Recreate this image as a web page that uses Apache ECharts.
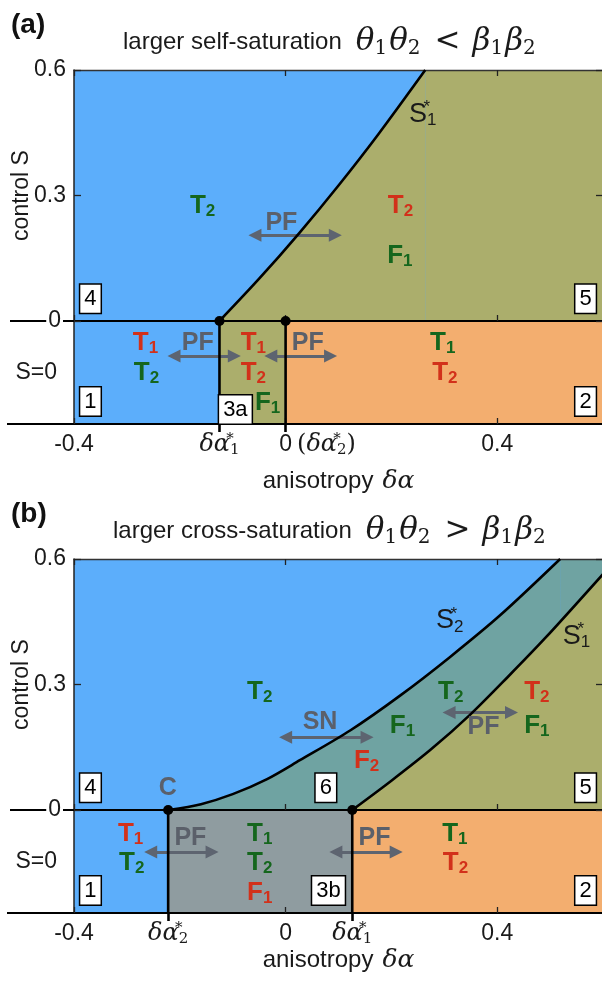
<!DOCTYPE html>
<html>
<head>
<meta charset="utf-8">
<script src="https://cdn.jsdelivr.net/npm/echarts@6/dist/echarts.min.js"></script>
<style>
html,body{margin:0;padding:0;background:#fff}
#chart{width:602px;height:988px}
</style>
</head>
<body>
<div id="chart"></div>
<script>
// ---------- axes ----------
const X_MIN = -0.4, X_MAX = 0.6, X_STEP = 0.4;
const S_MIN = 0, S_MAX = 0.6, S_STEP = 0.3;
const xTickValues = [-0.4, 0, 0.4];
const sLabelValues = [0.3, 0.6];

// ---------- panel (a): larger self-saturation ----------
const aAlpha1 = -0.125;           // δα1*
const aAlpha2 = 0;                // δα2*
const aCurveS1 = [[-0.125, 0], [-0.05, 0.101], [0.025, 0.209], [0.1, 0.324], [0.175, 0.446], [0.264, 0.6]];
const aStripBands = [[aAlpha1, aAlpha2, 'olive'], [aAlpha2, X_MAX, 'orange']];
const aStripWalls = [aAlpha1, aAlpha2];
const aNodes = [[aAlpha1, 0], [aAlpha2, 0]];
const aTickLabels = [[-0.4, '{n|-0.4}'], [aAlpha1, '{m|δα}{mt|*}{mb|1}'], [0, '{pad|}{n|0}{gap|}{ms|(}{m|δα}{mt|*}{mb|2}{ms|)}'], [0.4, '{n|0.4}']];
// stable states: [symbol, index, colour, δα, y]
const aUpperStates = [['T', '2', 'g', -0.156, 0.274], ['T', '2', 'r', 0.218, 0.274], ['F', '1', 'g', 0.217, 0.155]];
const aStripStates = [['T', '1', 'r', -0.264, 0.786], ['T', '2', 'g', -0.262, 0.495],
                      ['T', '1', 'r', -0.06, 0.786], ['T', '2', 'r', -0.06, 0.495], ['F', '1', 'g', -0.033, 0.204],
                      ['T', '1', 'g', 0.298, 0.786], ['T', '2', 'r', 0.302, 0.495]];
// bifurcation names: [name, δα, y]; arrows: [from δα, to δα, y]
const aUpperBif = [['PF', -0.007, 0.233]];
const aUpperArrows = [[-0.058, 0.094, 0.205]];
const aStripBif = [['PF', -0.165, 0.777], ['PF', 0.043, 0.777]];
const aStripArrows = [[-0.211, -0.097, 0.66], [-0.028, 0.085, 0.66]];
const aUpperBoxes = [['4', -0.368, 0.052], ['5', 0.568, 0.052]];
const aStripBoxes = [['1', -0.368, 0.214], ['2', 0.568, 0.214], ['3a', -0.094, 0.136]];
const aCurveNames = [['1', 0.26, 0.493]];

// ---------- panel (b): larger cross-saturation ----------
const bAlpha1 = 0.126;            // δα1*
const bAlpha2 = -0.222;           // δα2*
const bCurveS2 = [[-0.222, 0], [-0.16, 0.014], [-0.1, 0.038], [-0.035, 0.074], [0.027, 0.119], [0.122, 0.19],
                  [0.217, 0.274], [0.311, 0.366], [0.406, 0.466], [0.519, 0.6]];
const bCurveS1 = [[0.126, 0], [0.2, 0.07], [0.275, 0.145], [0.349, 0.228], [0.42, 0.318], [0.49, 0.41], [0.6, 0.564]];
const bStripBands = [[bAlpha2, bAlpha1, 'grey'], [bAlpha1, X_MAX, 'orange']];
const bStripWalls = [bAlpha2, bAlpha1];
const bNodes = [[bAlpha2, 0], [bAlpha1, 0]];
const bTickLabels = [[-0.4, '{n|-0.4}'], [bAlpha2, '{m|δα}{mt|*}{mb|2}'], [0, '{n|0}'], [bAlpha1, '{m|δα}{mt|*}{mb|1}'], [0.4, '{n|0.4}']];
const bUpperStates = [['T', '2', 'g', -0.048, 0.281], ['F', '1', 'g', 0.222, 0.2], ['F', '2', 'r', 0.154, 0.117],
                      ['T', '2', 'g', 0.313, 0.281], ['T', '2', 'r', 0.476, 0.281], ['F', '1', 'g', 0.476, 0.2]];
const bStripStates = [['T', '1', 'r', -0.292, 0.767], ['T', '2', 'g', -0.29, 0.485],
                      ['T', '1', 'g', -0.048, 0.767], ['T', '2', 'g', -0.048, 0.485], ['F', '1', 'r', -0.048, 0.194],
                      ['T', '1', 'g', 0.321, 0.767], ['T', '2', 'r', 0.322, 0.485]];
const bUpperBif = [['SN', 0.066, 0.21], ['PF', 0.375, 0.198], ['C', -0.222, 0.05]];
const bUpperArrows = [[0.0, 0.154, 0.174], [0.309, 0.427, 0.233]];
const bStripBif = [['PF', -0.179, 0.718], ['PF', 0.169, 0.718]];
const bStripArrows = [[-0.255, -0.139, 0.592], [0.095, 0.209, 0.592]];
const bUpperBoxes = [['4', -0.368, 0.052], ['6', 0.077, 0.052], ['5', 0.568, 0.052]];
const bStripBoxes = [['1', -0.368, 0.214], ['3b', 0.082, 0.214], ['2', 0.568, 0.214]];
const bCurveNames = [['2', 0.311, 0.452], ['1', 0.551, 0.414]];

// ---------- styling ----------
const SANS = '"Liberation Sans", Arial, sans-serif';
const MATH = '"DejaVu Serif", serif';
const FILL = { blue: '#5caefb', olive: '#abae6c', orange: '#f3ae6f', grey: '#8f9ca0', teal: '#6fa3a2' };
const GREEN = '#15661d', RED = '#d2311a', BIFGREY = '#5b606a', ARROW = '#5d6470', INK = '#1a1a1a';
const CURVE_SMOOTH = 0.3;

const RICH = {
  g:  { fontFamily: SANS, fontWeight: 'bold', fontSize: 26, lineHeight: 28, color: GREEN },
  gs: { fontFamily: SANS, fontWeight: 'bold', fontSize: 17, lineHeight: 14, color: GREEN, verticalAlign: 'bottom' },
  r:  { fontFamily: SANS, fontWeight: 'bold', fontSize: 26, lineHeight: 28, color: RED },
  rs: { fontFamily: SANS, fontWeight: 'bold', fontSize: 17, lineHeight: 14, color: RED, verticalAlign: 'bottom' },
  p:  { fontFamily: SANS, fontWeight: 'bold', fontSize: 25, lineHeight: 28, color: BIFGREY },
  k:  { fontFamily: SANS, fontSize: 27, lineHeight: 30, color: INK },
  kt: { fontFamily: SANS, fontSize: 17, lineHeight: 14, color: INK, verticalAlign: 'top', width: 0 },
  ks: { fontFamily: SANS, fontSize: 17, lineHeight: 14, color: INK, verticalAlign: 'bottom' }
};
const AXIS_RICH = {
  n:   { fontFamily: SANS, fontSize: 23, lineHeight: 26, color: INK },
  m:   { fontFamily: MATH, fontStyle: 'italic', fontSize: 24, lineHeight: 26, color: INK },
  ms:  { fontFamily: MATH, fontSize: 24, lineHeight: 26, color: INK },
  mt:  { fontFamily: MATH, fontSize: 15, lineHeight: 12, color: INK, verticalAlign: 'top', width: 0 },
  mb:  { fontFamily: MATH, fontSize: 15, lineHeight: 12, color: INK, verticalAlign: 'bottom' },
  pad: { width: 64 },
  gap: { width: 5 }
};
const TITLE_RICH = {
  t: { fontFamily: SANS, fontWeight: 'normal', fontSize: 24, lineHeight: 34, color: INK },
  m: { fontFamily: MATH, fontWeight: 'normal', fontStyle: 'italic', fontSize: 31, lineHeight: 34, color: INK },
  s: { fontFamily: MATH, fontWeight: 'normal', fontSize: 20, lineHeight: 16, color: INK, verticalAlign: 'bottom', padding: [0, 2, 0, 0] },
  o: { fontFamily: MATH, fontWeight: 'normal', fontSize: 31, lineHeight: 34, color: INK, padding: [0, 12] },
  sp: { width: 14 }
};

function stateText(s) { return '{' + s[2] + '|' + s[0] + '}{' + s[2] + 's|' + s[1] + '}'; }

const option = {
  animation: false,
  backgroundColor: '#fff',
  title: [],
  grid: [],
  xAxis: [],
  yAxis: [],
  series: []
};

const CLEAR = { color: 'rgba(0,0,0,0)', opacity: 1 };

function textSeries(xi, yi, items) {
  return {
    type: 'scatter', xAxisIndex: xi, yAxisIndex: yi, silent: true, clip: false, z: 8,
    symbol: 'circle', symbolSize: 1, itemStyle: CLEAR,
    label: { show: true, position: [0, 0], align: 'center', verticalAlign: 'middle', rich: RICH, textBorderWidth: 0 },
    data: items.map(it => ({ value: [it[1], it[2]], label: { formatter: it[0] } }))
  };
}

function boxSeries(xi, yi, items) {
  return {
    type: 'scatter', xAxisIndex: xi, yAxisIndex: yi, silent: true, clip: false, z: 8,
    symbol: 'circle', symbolSize: 1, itemStyle: CLEAR,
    label: {
      show: true, position: [0, 0], align: 'center', verticalAlign: 'middle',
      fontFamily: SANS, fontSize: 22, lineHeight: 24, color: '#000',
      backgroundColor: '#fff', borderColor: '#000', borderWidth: 1.5, padding: [3, 4, 1, 4],
      formatter: p => p.data.name
    },
    data: items.map(it => ({ name: it[0], value: [it[1], it[2]] }))
  };
}

function arrowLines(xi, yi, arrows) {
  return {
    type: 'line', xAxisIndex: xi, yAxisIndex: yi, data: [], silent: true, z: 7,
    markLine: {
      silent: true, animation: false, symbol: ['triangle', 'triangle'], symbolSize: [13, 13],
      label: { show: false }, lineStyle: { color: ARROW, width: 3, type: 'solid', opacity: 1 },
      emphasis: { disabled: true },
      data: arrows.map(a => [{ coord: [a[0], a[2]] }, { coord: [a[1], a[2]] }])
    }
  };
}

function areaSeries(xi, yi, pts, colour, z, smooth) {
  return {
    type: 'line', xAxisIndex: xi, yAxisIndex: yi, data: pts, showSymbol: false, symbol: 'none',
    silent: true, z: z, smooth: smooth || false, lineStyle: { width: 0 }, areaStyle: { color: colour, opacity: 1 }
  };
}

function curveSeries(xi, yi, pts) {
  return {
    type: 'line', xAxisIndex: xi, yAxisIndex: yi, data: pts, showSymbol: false, symbol: 'none',
    silent: true, z: 6, smooth: CURVE_SMOOTH, lineStyle: { color: '#000', width: 2.6 }
  };
}

function addPanel(P) {
  const gU = option.grid.length, gL = gU + 1;
  const gridBase = { left: 74, right: -1, show: true, backgroundColor: FILL.blue, borderWidth: 0,
                     containLabel: false, outerBoundsMode: 'none' };
  option.grid.push(
    Object.assign({}, gridBase, { top: P.top, height: 251 }),
    Object.assign({}, gridBase, { top: P.top + 251, height: 103 })
  );

  const baseX = { type: 'value', min: X_MIN, max: X_MAX, interval: X_STEP, splitLine: { show: false }, z: 5 };
  const xU = option.xAxis.length;
  option.xAxis.push(
    Object.assign({}, baseX, { gridIndex: gU, position: 'bottom',
      axisLine: { onZero: false, lineStyle: { color: '#000', width: 2 } },
      axisTick: { inside: true, length: 6, lineStyle: { color: '#222', width: 1.3 } },
      axisLabel: { show: false } }),
    Object.assign({}, baseX, { gridIndex: gU, position: 'top',
      axisLine: { onZero: false, lineStyle: { color: '#333', width: 1.3 } },
      axisTick: { inside: true, length: 6, lineStyle: { color: '#222', width: 1.3 } },
      axisLabel: { show: false } }),
    Object.assign({}, baseX, { gridIndex: gL, position: 'bottom',
      axisLine: { onZero: false, lineStyle: { color: '#000', width: 2 } },
      axisTick: { inside: true, length: 6, customValues: xTickValues, lineStyle: { color: '#222', width: 1.3 } },
      axisLabel: {
        margin: 8, customValues: P.tickLabels.map(t => t[0]), rich: AXIS_RICH,
        formatter: v => { const hit = P.tickLabels.find(t => Math.abs(t[0] - v) < 1e-6); return hit ? hit[1] : ''; }
      },
      name: '{n|anisotropy}{gap|}{m|δα}', nameLocation: 'middle', nameGap: P.nameGap, nameMoveOverlap: false,
      nameTextStyle: { rich: { n: { fontFamily: SANS, fontSize: 24, lineHeight: 28, color: INK },
                               m: { fontFamily: MATH, fontStyle: 'italic', fontSize: 25, lineHeight: 28, color: INK },
                               gap: { width: 9 } } } }),
    Object.assign({}, baseX, { gridIndex: gL, position: 'bottom',
      axisLine: { show: false, onZero: false },
      axisTick: { inside: false, length: 8, customValues: P.walls, lineStyle: { color: '#000', width: 2.6 } },
      axisLabel: { show: false } })
  );

  const yU = option.yAxis.length;
  option.yAxis.push(
    { type: 'value', gridIndex: gU, position: 'left', min: S_MIN, max: S_MAX, interval: S_STEP, z: 5,
      splitLine: { show: false },
      axisLine: { onZero: false, lineStyle: { color: '#222', width: 1.5 } },
      axisTick: { inside: true, length: 7, lineStyle: { color: '#222', width: 1.3 } },
      axisLabel: { customValues: sLabelValues, margin: 8, fontFamily: SANS, fontSize: 23, color: INK },
      name: 'control S', nameLocation: 'middle', nameGap: 41, nameMoveOverlap: false,
      nameTextStyle: { fontFamily: SANS, fontSize: 23, color: INK } },
    { type: 'value', gridIndex: gU, position: 'left', min: S_MIN, max: S_MAX, interval: S_STEP, z: 5,
      splitLine: { show: false }, axisLine: { show: false, onZero: false },
      axisTick: { inside: false, length: 64, customValues: [0], lineStyle: { color: '#000', width: 2 } },
      axisLabel: { customValues: [0], margin: 11, fontFamily: SANS, fontSize: 23, color: INK,
                   backgroundColor: '#fff', padding: [0, 2, 0, 2], formatter: () => '0' } },
    { type: 'value', gridIndex: gU, position: 'right', min: S_MIN, max: S_MAX, interval: S_STEP, z: 5,
      splitLine: { show: false }, axisLine: { show: false, onZero: false },
      axisTick: { inside: true, length: 7, lineStyle: { color: '#222', width: 1.3 } },
      axisLabel: { show: false } },
    { type: 'value', gridIndex: gL, position: 'left', min: 0, max: 1, z: 5,
      splitLine: { show: false },
      axisLine: { onZero: false, lineStyle: { color: '#222', width: 1.5 } },
      axisTick: { inside: false, length: 67, customValues: [0], lineStyle: { color: '#000', width: 2 } },
      axisLabel: { show: false },
      name: 'S=0', nameLocation: 'middle', nameRotate: 0, nameGap: 17, nameMoveOverlap: false,
      nameTextStyle: { fontFamily: SANS, fontSize: 23, color: INK } }
  );
  const yL = yU + 3;
  const xL = xU + 2;

  // filled regions of the S > 0 plane: under each boundary, plus the full-height part beyond where it leaves the top
  P.areas.forEach((a, i) => {
    const pts = a[0], end = pts[pts.length - 1];
    if (end[0] < X_MAX) {
      option.series.push(areaSeries(xU, yU, [[end[0], S_MAX], [X_MAX, S_MAX]], FILL[a[1]], 1 + i * 0.1));
    }
    option.series.push(areaSeries(xU, yU, pts, FILL[a[1]], 1 + i * 0.1, CURVE_SMOOTH));
  });
  // phase boundaries S*
  P.curves.forEach(c => option.series.push(curveSeries(xU, yU, c)));
  // S = 0 strip
  P.bands.forEach(b => option.series.push(areaSeries(xL, yL, [[b[0], 1], [b[1], 1]], FILL[b[2]], 1)));
  P.walls.forEach(w => option.series.push({
    type: 'line', xAxisIndex: xL, yAxisIndex: yL, data: [[w, 0], [w, 1]], showSymbol: false, symbol: 'none',
    silent: true, z: 6, lineStyle: { color: '#000', width: 2.6 }
  }));
  // codimension-two points on S = 0
  option.series.push({
    type: 'scatter', xAxisIndex: xU, yAxisIndex: yU, data: P.nodes, symbolSize: 10, clip: false, silent: true,
    z: 9, itemStyle: { color: '#000', opacity: 1 }
  });
  // arrows
  option.series.push(arrowLines(xU, yU, P.upperArrows));
  option.series.push(arrowLines(xL, yL, P.stripArrows));
  // texts
  option.series.push(textSeries(xU, yU, P.upperStates.map(s => [stateText(s), s[3], s[4]])));
  option.series.push(textSeries(xL, yL, P.stripStates.map(s => [stateText(s), s[3], s[4]])));
  option.series.push(textSeries(xU, yU, P.upperBif.map(b => ['{p|' + b[0] + '}', b[1], b[2]])));
  option.series.push(textSeries(xL, yL, P.stripBif.map(b => ['{p|' + b[0] + '}', b[1], b[2]])));
  option.series.push(textSeries(xU, yU, P.curveNames.map(c => ['{k|S}{kt|*}{ks|' + c[0] + '}', c[1], c[2]])));
  option.series.push(boxSeries(xU, yU, P.upperBoxes));
  option.series.push(boxSeries(xL, yL, P.stripBoxes));

  option.title.push(
    { text: P.tag, left: 6, top: P.top - 64,
      textStyle: { fontFamily: SANS, fontWeight: 'bold', fontSize: 28, color: '#111' } },
    { text: P.heading, left: P.headingLeft, top: P.top - 50, textStyle: { fontWeight: 'normal', rich: TITLE_RICH } }
  );
}

addPanel({
  top: 70, tag: '(a)', headingLeft: 118, nameGap: 43,
  heading: '{t|larger self-saturation}{sp|}{m|θ}{s|1}{m|θ}{s|2}{o|<}{m|β}{s|1}{m|β}{s|2}',
  areas: [[aCurveS1, 'olive']],
  curves: [aCurveS1],
  bands: aStripBands, walls: aStripWalls, nodes: aNodes, tickLabels: aTickLabels,
  upperStates: aUpperStates, stripStates: aStripStates,
  upperBif: aUpperBif, stripBif: aStripBif, upperArrows: aUpperArrows, stripArrows: aStripArrows,
  upperBoxes: aUpperBoxes, stripBoxes: aStripBoxes, curveNames: aCurveNames
});

addPanel({
  top: 559, tag: '(b)', headingLeft: 108, nameGap: 33,
  heading: '{t|larger cross-saturation}{sp|}{m|θ}{s|1}{m|θ}{s|2}{o|>}{m|β}{s|1}{m|β}{s|2}',
  areas: [[bCurveS2, 'teal'], [bCurveS1, 'olive']],
  curves: [bCurveS2, bCurveS1],
  bands: bStripBands, walls: bStripWalls, nodes: bNodes, tickLabels: bTickLabels,
  upperStates: bUpperStates, stripStates: bStripStates,
  upperBif: bUpperBif, stripBif: bStripBif, upperArrows: bUpperArrows, stripArrows: bStripArrows,
  upperBoxes: bUpperBoxes, stripBoxes: bStripBoxes, curveNames: bCurveNames
});

const chart = echarts.init(document.getElementById('chart'), null, { renderer: 'canvas' });
chart.setOption(option);
</script>
</body>
</html>
